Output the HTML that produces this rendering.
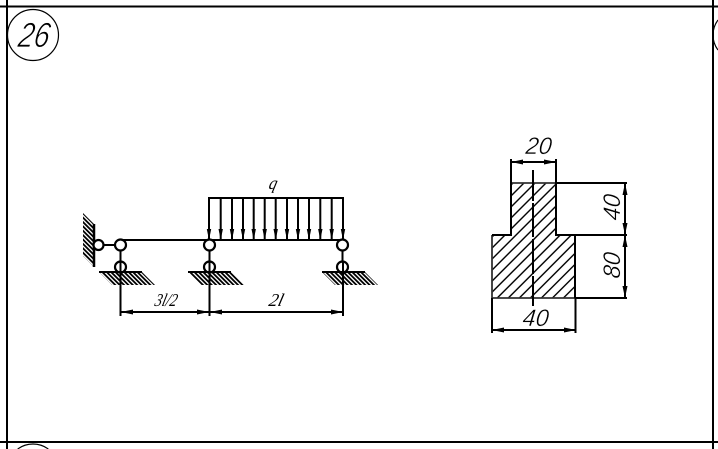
<!DOCTYPE html>
<html><head><meta charset="utf-8"><style>
html,body{margin:0;padding:0;background:#fff;width:718px;height:449px;overflow:hidden}
svg{display:block}
text{font-family:"Liberation Sans",sans-serif;font-style:italic;fill:#000}
text.s{font-family:"Liberation Serif",serif}
</style></head><body>
<svg width="718" height="449" viewBox="0 0 718 449" xmlns="http://www.w3.org/2000/svg">
<defs>
<pattern id="fine" width="3.1" height="3.1" patternUnits="userSpaceOnUse" patternTransform="rotate(-45)"><rect width="1.8" height="3.1" fill="#000"/></pattern>
<pattern id="big" width="7.8" height="7.8" patternUnits="userSpaceOnUse" patternTransform="rotate(45)"><rect width="1.4" height="7.8" fill="#000"/></pattern>
<g id="ar"><path d="M0 0L-2.200 -11H2.200Z" fill="#000"/></g>
</defs>

<path d="M0 6.500H718M7 0V449M0 442H718M713 0V449" stroke="#000" stroke-width="2" fill="none"/>
<circle cx="33" cy="35" r="25.500" fill="none" stroke="#000" stroke-width="1.200"/>
<path d="M718 20A25 25 0 0 0 718 50" fill="none" stroke="#000" stroke-width="1.200"/>
<path d="M17.700 449A26 26 0 0 1 48.300 449" fill="none" stroke="#000" stroke-width="1.200"/>
<text transform="translate(17,47) skewX(-10)" font-size="35" textLength="31" lengthAdjust="spacingAndGlyphs" stroke="#fff" stroke-width="0.700">26</text>

<!-- wall and support hatching -->
<path d="M83 213L94 224V267L83 256Z" fill="url(#fine)"/>
<path d="M94 224V267" stroke="#000" stroke-width="2.500"/>
<path d="M99 272H142L155 285H112Z" fill="url(#fine)"/>
<path d="M188 272H231L244 285H201Z" fill="url(#fine)"/>
<path d="M322 272H365L378 285H335Z" fill="url(#fine)"/>
<path d="M99 272H142M188 272H231M322 272H365" stroke="#000" stroke-width="2"/>

<!-- beam -->
<g stroke="#000" fill="none" stroke-width="2">
<path d="M121 240H343"/>
<path d="M103 245H116"/>
<path d="M120.500 250V262M209.500 250V262M342.500 250V262"/>
<path d="M208 198H344"/>
<path d="M209 198V240M220.700 198V240M232 198V240M243 198V240M253.700 198V240M264.700 198V240M275.700 198V240M287 198V240M298 198V240M309 198V240M320.300 198V240M331.700 198V240M343 198V240"/>
<path d="M120.500 262V316M209.500 262V316M343 262V316"/>
<path d="M121 312H343"/>
</g>
<g>
<use href="#ar" x="209" y="240"/><use href="#ar" x="220.700" y="240"/><use href="#ar" x="232" y="240"/><use href="#ar" x="243" y="240"/><use href="#ar" x="253.700" y="240"/><use href="#ar" x="264.700" y="240"/><use href="#ar" x="275.700" y="240"/><use href="#ar" x="287" y="240"/><use href="#ar" x="298" y="240"/><use href="#ar" x="309" y="240"/><use href="#ar" x="320.300" y="240"/><use href="#ar" x="331.700" y="240"/><use href="#ar" x="343" y="240"/>
</g>
<g fill="#fff" stroke="#000" stroke-width="2.200">
<circle cx="98.500" cy="245" r="5"/>
<circle cx="120.500" cy="245" r="5.500"/>
<circle cx="209.500" cy="245" r="5.500"/>
<circle cx="342.500" cy="245" r="5.500"/>
</g>
<g fill="none" stroke="#000" stroke-width="2.200">
<circle cx="120.500" cy="267" r="5.500"/>
<circle cx="209.500" cy="267" r="5.500"/>
<circle cx="342.500" cy="267" r="5.500"/>
</g>
<g fill="#000">
<path d="M121 312L133 309.500V314.500Z"/><path d="M209 312L197 309.500V314.500Z"/>
<path d="M210 312L222 309.500V314.500Z"/><path d="M343 312L331 309.500V314.500Z"/>
</g>
<text class="s" transform="translate(154,306) skewX(-14)" font-size="18" textLength="22" lengthAdjust="spacingAndGlyphs">3l/2</text>
<text class="s" transform="translate(268,306) skewX(-14)" font-size="18" textLength="14" lengthAdjust="spacingAndGlyphs">2l</text>
<text class="s" transform="translate(268,189) skewX(-14)" font-size="18" textLength="8" lengthAdjust="spacingAndGlyphs">q</text>

<!-- section -->
<path d="M511 183H556V235H575V298H492V235H511Z" fill="url(#big)"/>
<path d="M511 183H556M492 235V298H575" stroke="#333" stroke-width="1.800" fill="none"/>
<g stroke="#000" fill="none" stroke-width="2">
<path d="M511 183V235H492M556 183V235H575V298M556 183H627M556 235H627M575 298H627"/>
<path d="M511 159V183M556 159V183M492 298V333M575.500 298V333"/>
<path d="M511 162H556M492 330H576M625 183V298"/>
<path d="M533 170V201M533 203V237M533 239V274M533 276V306"/>
</g>
<g fill="#000">
<path d="M511 162L523 159.500V164.500Z"/><path d="M556 162L544 159.500V164.500Z"/>
<path d="M492 330L504 327.500V332.500Z"/><path d="M576 330L564 327.500V332.500Z"/>
<path d="M625 183L622.500 195H627.500Z"/><path d="M625 235L622.500 223H627.500Z"/>
<path d="M625 235L622.500 247H627.500Z"/><path d="M625 298L622.500 286H627.500Z"/>
</g>
<text transform="translate(525,154) skewX(-6)" font-size="24" textLength="26" lengthAdjust="spacingAndGlyphs" stroke="#fff" stroke-width="0.400">20</text>
<text transform="translate(522,326) skewX(-6)" font-size="24" textLength="26" lengthAdjust="spacingAndGlyphs" stroke="#fff" stroke-width="0.400">40</text>
<text transform="translate(620,221) rotate(-90) skewX(-6)" font-size="24" textLength="26" lengthAdjust="spacingAndGlyphs" stroke="#fff" stroke-width="0.400">40</text>
<text transform="translate(620,279) rotate(-90) skewX(-6)" font-size="24" textLength="26" lengthAdjust="spacingAndGlyphs" stroke="#fff" stroke-width="0.400">80</text>
</svg>
</body></html>
